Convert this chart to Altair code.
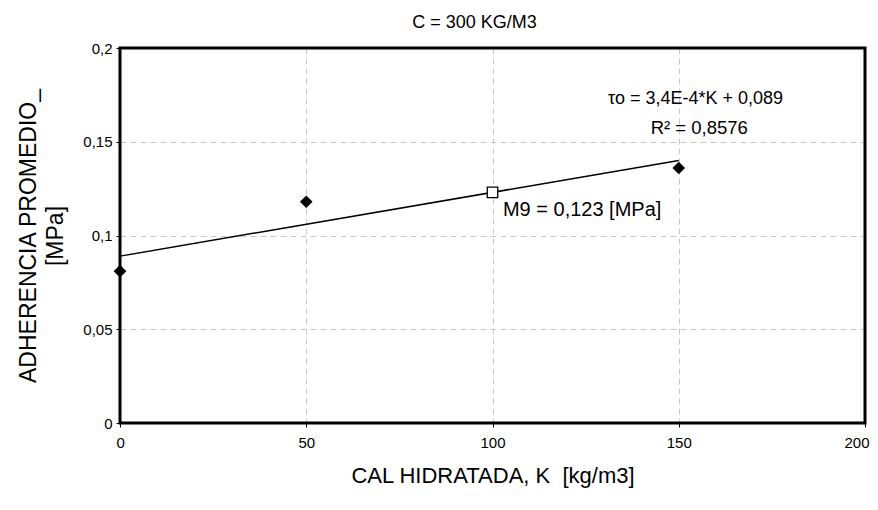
import altair as alt
import pandas as pd

# Data
cal_k = [0, 50, 150]
adherencia = [0.081, 0.118, 0.136]
m9_k = [100]
m9_val = [0.123]
trend_k = [0, 150]
trend_val = [0.089, 0.140]
x_ticks = [0, 50, 100, 150, 200]
y_ticks = [0, 0.05, 0.1, 0.15, 0.2]

FONT = "Liberation Sans"

pts = pd.DataFrame({"k": cal_k, "v": adherencia})
m9 = pd.DataFrame({"k": m9_k, "v": m9_val})
trend = pd.DataFrame({"k": trend_k, "v": trend_val})

xscale = alt.Scale(domain=[0, 200], nice=False, zero=False)
yscale = alt.Scale(domain=[0, 0.2], nice=False, zero=False)

xaxis = alt.Axis(values=x_ticks, title="CAL HIDRATADA, K \u00a0[kg/m3]", grid=True,
                 gridDash=[6, 4], gridColor="#c8c8c8", gridWidth=1,
                 domain=False, tickColor="black", tickSize=4, tickWidth=1,
                 labelFontSize=15, labelFont=FONT, labelColor="black",
                 labelFlush=True, labelFlushOffset=4,
                 labelPadding=8, titleFontSize=22, titleFont=FONT,
                 titleFontWeight="normal", titleColor="black", titlePadding=15)
yaxis = alt.Axis(values=y_ticks, title=["ADHERENCIA PROMEDIO_", "[MPa]"],
                 labelExpr="replace(toString(datum.value), '.', ',')",
                 grid=True, gridDash=[6, 4], gridColor="#c8c8c8", gridWidth=1,
                 domain=False, tickColor="black", tickSize=4, tickWidth=1,
                 labelFontSize=15, labelFont=FONT, labelColor="black",
                 labelFlush=False,
                 labelPadding=4, titleFontSize=23, titleFont=FONT,
                 titleFontWeight="normal", titleColor="black", titlePadding=15,
                 titleLineHeight=27)

line = alt.Chart(trend).mark_line(color="black", strokeWidth=1.5).encode(
    x=alt.X("k:Q", scale=xscale, axis=xaxis),
    y=alt.Y("v:Q", scale=yscale, axis=yaxis),
)

diamonds = alt.Chart(pts).mark_point(shape="diamond", filled=True, color="black",
                                     size=160, opacity=1).encode(
    x=alt.X("k:Q", scale=xscale), y=alt.Y("v:Q", scale=yscale))

square = alt.Chart(m9).mark_point(shape="square", filled=False, color="black",
                                  fill="white", fillOpacity=1, size=110,
                                  strokeWidth=1.3, opacity=1).encode(
    x=alt.X("k:Q", scale=xscale), y=alt.Y("v:Q", scale=yscale))

frame = alt.Chart(pd.DataFrame({"a": [0]})).mark_rect(
    fill=None, fillOpacity=0, stroke="black", strokeWidth=3
).encode(x=alt.datum(0, scale=xscale), x2=alt.datum(200),
         y=alt.datum(0, scale=yscale), y2=alt.datum(0.2))

def label(text, k, v, size=18, align="center"):
    return alt.Chart(pd.DataFrame({"t": [text]})).mark_text(
        font=FONT, fontSize=size, color="black", align=align, baseline="middle"
    ).encode(x=alt.datum(k, scale=xscale), y=alt.datum(v, scale=yscale), text="t:N")

eq = label("τo = 3,4E-4*K + 0,089", 154.5, 0.1729)
r2 = label("R² = 0,8576", 155.5, 0.1575, size=18.5)
m9lab = label("M9 = 0,123 [MPa]", 102.8, 0.1137, size=20, align="left")

chart = alt.layer(line, diamonds, square, frame, eq, r2, m9lab).properties(
    width=745, height=375,
    title=alt.TitleParams("C = 300 KG/M3", font=FONT, fontSize=18,
                          fontWeight="normal", color="black", anchor="middle",
                          dx=-18, offset=9),
    autosize=alt.AutoSizeParams(type="none"),
    padding={"left": 112, "top": 40, "right": 5, "bottom": 70},
).configure(background="white").configure_view(stroke=None)

chart.save("out.html", embed_options={"renderer": "svg", "actions": False})
